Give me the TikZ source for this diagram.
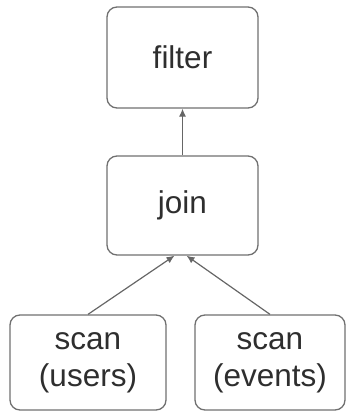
\documentclass[tikz,border=0pt]{standalone}
\usepackage{fontspec}
\setmainfont{Liberation Sans}
\usetikzlibrary{arrows.meta}
\definecolor{boxgray}{HTML}{707070}
\definecolor{linegray}{HTML}{666666}
\definecolor{txt}{HTML}{2E2E2E}
\begin{document}
\begin{tikzpicture}[x=1pt,y=-1pt,
  opbox/.style={draw=boxgray,line width=1.3pt,rounded corners=10pt,rectangle,inner sep=0pt,
    align=center,text=txt,font=\fontsize{31.5}{37}\selectfont},
  arr/.style={draw=linegray,line width=1.2pt,-{Latex[length=8pt,width=7pt]}}]
\useasboundingbox (0,0) rectangle (349,412);
\node[opbox,minimum width=151pt,minimum height=101pt] (filter) at (182.5,57.5) {filter};
\node[opbox,minimum width=151pt,minimum height=99pt] (join) at (182.5,205.5) {join};
\node[opbox,minimum width=156pt,minimum height=95pt] (users) at (88,362.5) {scan\\(users)};
\node[opbox,minimum width=150pt,minimum height=95pt] (events) at (270,362.5) {scan\\(events)};
\draw[arr] (join.north) -- (filter.south);
\draw[arr] (users.north) -- ([xshift=-8pt]join.south);
\draw[arr] (events.north) -- ([xshift=4pt]join.south);
\end{tikzpicture}
\end{document}
